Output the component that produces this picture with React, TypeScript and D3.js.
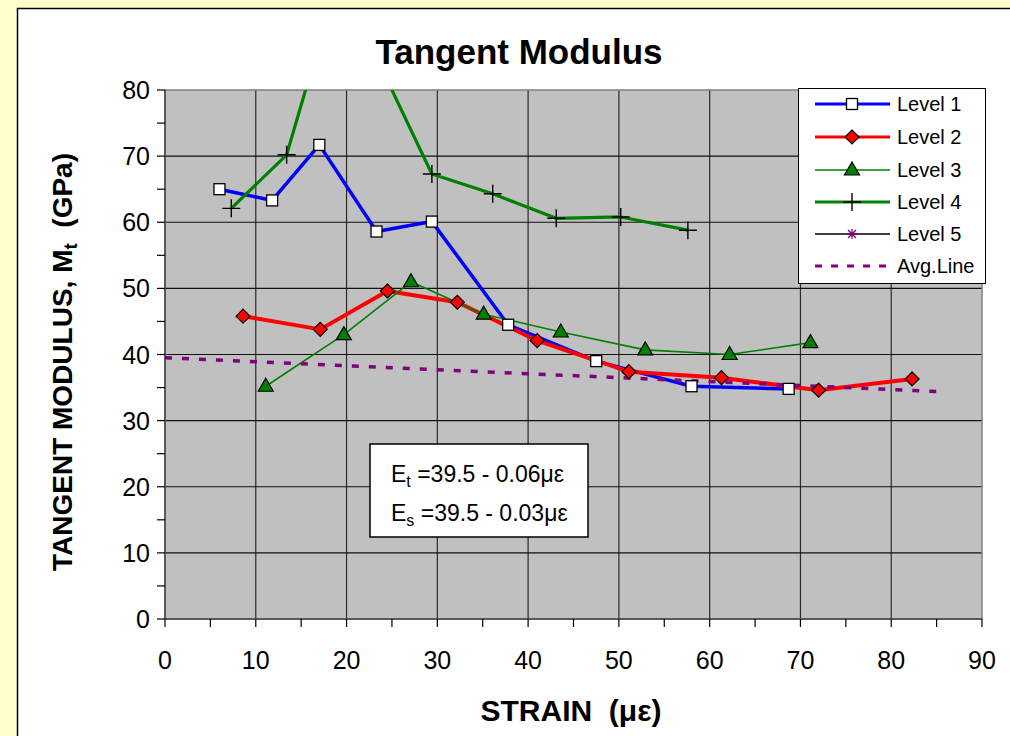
import React from 'react';
import * as d3 from 'd3';

// strain (με) and tangent modulus (GPa)
const level1X = [6.0, 11.8, 17.0, 23.3, 29.4, 37.8, 47.5, 58.0, 68.7];
const level1Y = [65.0, 63.3, 71.7, 58.6, 60.1, 44.5, 39.0, 35.2, 34.8];
const level2X = [8.6, 17.1, 24.5, 32.2, 41.0, 51.1, 61.3, 72.0, 82.3];
const level2Y = [45.8, 43.8, 49.6, 47.9, 42.1, 37.4, 36.5, 34.6, 36.3];
const level3X = [11.1, 19.7, 27.1, 35.1, 43.6, 52.9, 62.2, 71.1];
const level3Y = [35.2, 43.0, 51.0, 46.1, 43.4, 40.7, 40.0, 41.8];
const level4X = [7.3, 13.4, 19.1, 29.4, 36.1, 43.1, 50.2, 57.6];
const level4Y = [62.1, 70.2, 97.0, 67.3, 64.3, 60.6, 60.8, 58.8];
const level5X: number[] = [];
const level5Y: number[] = [];
const avgX = [0, 85];
const avgY = [39.5, 34.4];

const xTicks = [0, 10, 20, 30, 40, 50, 60, 70, 80, 90];
const yTicks = [0, 10, 20, 30, 40, 50, 60, 70, 80];
const legendLabels = ['Level 1', 'Level 2', 'Level 3', 'Level 4', 'Level 5', 'Avg.Line'];

const W = 1010;
const H = 736;
const plot = { left: 165, right: 982, top: 90, bottom: 619 };
const font = 'Liberation Sans, Arial, sans-serif';

const pts = (xs: number[], ys: number[]) => xs.map((x, i) => [x, ys[i]] as [number, number]);

const App: React.FC = () => {
  const x = d3.scaleLinear().domain([0, 90]).range([plot.left, plot.right]);
  const y = d3.scaleLinear().domain([0, 80]).range([plot.bottom, plot.top]);
  const line = d3.line<[number, number]>().x(d => x(d[0])).y(d => y(d[1]));

  const minorX = d3.range(0, 91, 5);
  const minorY = d3.range(0, 81, 5);

  const square = (cx: number, cy: number, k: string | number) => (
    <rect key={k} x={cx - 5.5} y={cy - 5.5} width={11} height={11} fill="#fff" stroke="#000" strokeWidth={1.3} />
  );
  const diamond = (cx: number, cy: number, k: string | number) => (
    <path key={k} d={`M${cx},${cy - 7}L${cx + 7},${cy}L${cx},${cy + 7}L${cx - 7},${cy}Z`} fill="#ff0000" stroke="#000" strokeWidth={1.2} />
  );
  const triangle = (cx: number, cy: number, k: string | number) => (
    <path key={k} d={`M${cx},${cy - 8}L${cx + 7.5},${cy + 5}L${cx - 7.5},${cy + 5}Z`} fill="#008000" stroke="#000" strokeWidth={1.2} />
  );
  const plus = (cx: number, cy: number, k: string | number) => (
    <path key={k} d={`M${cx - 9},${cy}H${cx + 9}M${cx},${cy - 9}V${cy + 9}`} stroke="#000" strokeWidth={1.4} fill="none" />
  );
  const star = (cx: number, cy: number, k: string | number) => (
    <path key={k} d={`M${cx - 5},${cy}H${cx + 5}M${cx},${cy - 5}V${cy + 5}M${cx - 4},${cy - 4}L${cx + 4},${cy + 4}M${cx - 4},${cy + 4}L${cx + 4},${cy - 4}`} stroke="#800080" strokeWidth={1.3} fill="none" />
  );

  const series = [
    { xs: level1X, ys: level1Y, color: '#0000ff', width: 3.5, marker: square, dash: undefined },
    { xs: level2X, ys: level2Y, color: '#ff0000', width: 4, marker: diamond, dash: undefined },
    { xs: level3X, ys: level3Y, color: '#008000', width: 1.6, marker: triangle, dash: undefined },
    { xs: level4X, ys: level4Y, color: '#008000', width: 3.2, marker: plus, dash: undefined },
    { xs: level5X, ys: level5Y, color: '#000000', width: 1.5, marker: star, dash: undefined },
    { xs: avgX, ys: avgY, color: '#800080', width: 3.5, marker: null, dash: '7,10' },
  ];

  const legendRows = [104, 137, 170, 202, 234, 266];

  return (
    <svg width={W} height={H} style={{ position: 'absolute', left: 0, top: 0 }}>
      <rect x={0} y={0} width={W} height={H} fill="#ffffcc" />
      <rect x={17.5} y={8.5} width={W + 10} height={H + 10} fill="#fff" stroke="#000" strokeWidth={1.5} />

      <text x={519} y={64} textAnchor="middle" fontFamily={font} fontWeight="bold" fontSize={35}>
        Tangent Modulus
      </text>

      <defs>
        <clipPath id="plotClip">
          <rect x={plot.left} y={plot.top} width={plot.right - plot.left} height={plot.bottom - plot.top} />
        </clipPath>
      </defs>

      <rect x={plot.left} y={plot.top} width={plot.right - plot.left} height={plot.bottom - plot.top} fill="#c0c0c0" />

      {xTicks.slice(1, -1).map(t => (
        <line key={'gx' + t} x1={x(t)} x2={x(t)} y1={plot.top} y2={plot.bottom} stroke="#2a2a2a" strokeWidth={1.2} />
      ))}
      {yTicks.slice(1, -1).map(t => (
        <line key={'gy' + t} x1={plot.left} x2={plot.right} y1={y(t)} y2={y(t)} stroke="#111" strokeWidth={1.2} />
      ))}
      <rect x={plot.left} y={plot.top} width={plot.right - plot.left} height={plot.bottom - plot.top} fill="none" stroke="#808080" strokeWidth={1.5} />

      {/* axes */}
      <line x1={plot.left} x2={plot.left} y1={plot.top} y2={plot.bottom} stroke="#444" strokeWidth={1.5} />
      <line x1={plot.left} x2={plot.right} y1={plot.bottom} y2={plot.bottom} stroke="#444" strokeWidth={1.5} />
      {minorY.map(t => (
        <line key={'ty' + t} x1={plot.left - 8} x2={plot.left} y1={y(t)} y2={y(t)} stroke="#000" strokeWidth={1.2} />
      ))}
      {minorX.map(t => (
        <line key={'tx' + t} x1={x(t)} x2={x(t)} y1={plot.bottom} y2={plot.bottom + 8} stroke="#000" strokeWidth={1.2} />
      ))}
      {yTicks.map(t => (
        <text key={'ly' + t} x={plot.left - 15} y={y(t) + 9} textAnchor="end" fontFamily={font} fontSize={25}>
          {t}
        </text>
      ))}
      {xTicks.map(t => (
        <text key={'lx' + t} x={x(t)} y={669} textAnchor="middle" fontFamily={font} fontSize={25}>
          {t}
        </text>
      ))}

      <text x={571} y={721} textAnchor="middle" fontFamily={font} fontWeight="bold" fontSize={30} style={{ whiteSpace: 'pre' }}>
        STRAIN  (με)
      </text>
      <text transform="translate(72,362) rotate(-90)" textAnchor="middle" fontFamily={font} fontWeight="bold" fontSize={28} style={{ whiteSpace: 'pre' }}>
        TANGENT MODULUS, M<tspan dy={5} fontSize={19}>t</tspan>
        <tspan dy={-5}>  (GPa)</tspan>
      </text>

      {/* series lines then markers */}
      <g clipPath="url(#plotClip)">
        {series.map((s, i) =>
          s.xs.length ? (
            <path key={'s' + i} d={line(pts(s.xs, s.ys)) || ''} fill="none" stroke={s.color} strokeWidth={s.width} strokeDasharray={s.dash} strokeLinejoin="round" />
          ) : null
        )}
        {series.map((s, i) =>
          s.marker ? pts(s.xs, s.ys).map((p, j) => s.marker!(x(p[0]), y(p[1]), `m${i}-${j}`)) : null
        )}
      </g>

      {/* equation box */}
      <rect x={370} y={444} width={218} height={93} fill="#fff" stroke="#000" strokeWidth={1.5} />
      <text x={391} y={482} fontFamily={font} fontSize={23} style={{ whiteSpace: 'pre' }}>
        E<tspan dy={5} fontSize={16}>t</tspan>
        <tspan dy={-5}> =39.5 - 0.06με</tspan>
      </text>
      <text x={391} y={521} fontFamily={font} fontSize={23} style={{ whiteSpace: 'pre' }}>
        E<tspan dy={5} fontSize={16}>s</tspan>
        <tspan dy={-5}> =39.5 - 0.03με</tspan>
      </text>

      {/* legend */}
      <rect x={798.5} y={88.5} width={187} height={195} fill="#fff" stroke="#000" strokeWidth={1} />
      {series.map((s, i) => (
        <g key={'lg' + i}>
          <line x1={815} x2={890} y1={legendRows[i]} y2={legendRows[i]} stroke={s.color} strokeWidth={Math.min(s.width, 3.2)} strokeDasharray={s.dash ? '7,9' : undefined} />
          {s.marker ? s.marker(852, legendRows[i], 'lm' + i) : null}
          <text x={897} y={legendRows[i] + 7} fontFamily={font} fontSize={20}>
            {legendLabels[i]}
          </text>
        </g>
      ))}
    </svg>
  );
};

export default App;
